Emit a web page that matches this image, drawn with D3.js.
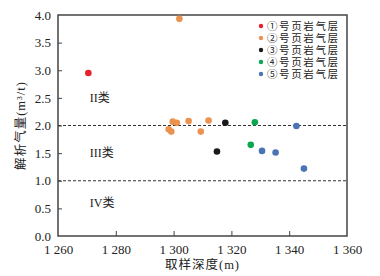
<!DOCTYPE html>
<html>
<head>
<meta charset="utf-8">
<style>
  body { margin: 0; background: #fff; }
  text { font-family: "Liberation Serif", "Noto Sans CJK SC", serif; fill: #222; }
</style>
</head>
<body>
<script src="https://cdn.jsdelivr.net/npm/d3@7"></script>
<script>
// data
var seriesNames = ["①号页岩气层", "②号页岩气层", "③号页岩气层", "④号页岩气层", "⑤号页岩气层"];
var seriesColors = ["#e8202a", "#eb924f", "#1a1a1a", "#0aa650", "#4a74b4"];
var depth1 = [1270.5];
var gas1 = [2.95];
var depth2 = [1302.0, 1299.7, 1301.1, 1298.3, 1299.2, 1305.2, 1309.4, 1312.1];
var gas2 = [3.93, 2.07, 2.05, 1.93, 1.89, 2.08, 1.89, 2.09];
var depth3 = [1317.9, 1315.0];
var gas3 = [2.05, 1.53];
var depth4 = [1328.1, 1326.7];
var gas4 = [2.06, 1.65];
var depth5 = [1342.5, 1330.6, 1335.3, 1345.1];
var gas5 = [1.99, 1.54, 1.51, 1.22];
var xTicks = [1260, 1280, 1300, 1320, 1340, 1360];
var yTicks = [0, 0.5, 1, 1.5, 2, 2.5, 3, 3.5, 4];
var classLines = [2.0, 1.0];
var classLabels = [{t: "II类", v: 2.5}, {t: "III类", v: 1.5}, {t: "IV类", v: 0.6}];

var W = 380, H = 276;
var margin = {top: 15, right: 33, bottom: 40, left: 58};
var width = W - margin.left - margin.right,
    height = H - margin.top - margin.bottom;

var svg = d3.select("body").append("svg")
    .attr("width", W).attr("height", H);
var g = svg.append("g")
    .attr("transform", "translate(" + margin.left + "," + margin.top + ")");

var x = d3.scaleLinear().domain([1260, 1360]).range([0, width]);
var y = d3.scaleLinear().domain([0, 4]).range([height, 0]);

function fmtDepth(d) { return String(d).replace(/^(\d)(\d{3})$/, "$1 $2"); }

// axes with inward ticks
var xAxis = g.append("g")
    .attr("transform", "translate(0," + height + ")")
    .call(d3.axisBottom(x).tickValues(xTicks).tickSize(-5).tickPadding(9).tickFormat(fmtDepth));
var yAxis = g.append("g")
    .call(d3.axisLeft(y).tickValues(yTicks).tickSize(-4).tickPadding(7).tickFormat(d3.format(".1f")));
[xAxis, yAxis].forEach(function(a) {
  a.select(".domain").remove();
  a.selectAll("line").attr("stroke", "#444");
  a.selectAll("text").style("font-size", "13px").style("font-family", "Liberation Serif").attr("fill", "#222");
});
xAxis.selectAll(".tick").filter(function(d) { return d === 1260 || d === 1360; }).select("line").remove();
yAxis.selectAll(".tick").filter(function(d) { return d === 0 || d === 4; }).select("line").remove();

// frame
g.append("rect")
    .attr("width", width).attr("height", height)
    .attr("fill", "none").attr("stroke", "#444").attr("stroke-width", 1.5);

// class boundaries
g.selectAll(".cls-line").data(classLines).enter().append("line")
    .attr("x1", 0).attr("x2", width)
    .attr("y1", function(d) { return y(d); }).attr("y2", function(d) { return y(d); })
    .attr("stroke", "#333").attr("stroke-width", 1).attr("stroke-dasharray", "3,2");

g.selectAll(".cls-label").data(classLabels).enter().append("text")
    .attr("x", x(1271))
    .attr("y", function(d) { return y(d.v); })
    .attr("dy", "0.35em")
    .style("font-size", "12px")
    .text(function(d) { return d.t; });

// points
var series = [
  {d: depth1, v: gas1}, {d: depth2, v: gas2}, {d: depth3, v: gas3},
  {d: depth4, v: gas4}, {d: depth5, v: gas5}
];
series.forEach(function(s, i) {
  g.selectAll(".pt" + i).data(s.d).enter().append("circle")
      .attr("cx", function(d) { return x(d); })
      .attr("cy", function(d, j) { return y(s.v[j]); })
      .attr("r", 3.3)
      .attr("fill", seriesColors[i]);
});

// legend
var legend = g.append("g").attr("transform", "translate(" + (width - 86) + ",11)");
seriesNames.forEach(function(name, i) {
  var row = legend.append("g").attr("transform", "translate(0," + (i * 12) + ")");
  row.append("circle").attr("r", 2.2).attr("fill", seriesColors[i]);
  row.append("text").attr("x", 6).attr("dy", "0.36em")
      .style("font-size", "10.5px")
      .attr("textLength", 71).attr("lengthAdjust", "spacing")
      .text(name);
});

// axis titles
g.append("text")
    .attr("x", width / 2).attr("y", height + 33)
    .attr("text-anchor", "middle")
    .style("font-size", "12.5px").style("letter-spacing", "1px")
    .text("取样深度(m)");
g.append("text")
    .attr("transform", "translate(" + (-33) + "," + (height / 2) + ") rotate(-90)")
    .attr("text-anchor", "middle")
    .style("font-size", "12.5px").style("letter-spacing", "1px")
    .text("解析气量(m³/t)");
</script>
</body>
</html>
